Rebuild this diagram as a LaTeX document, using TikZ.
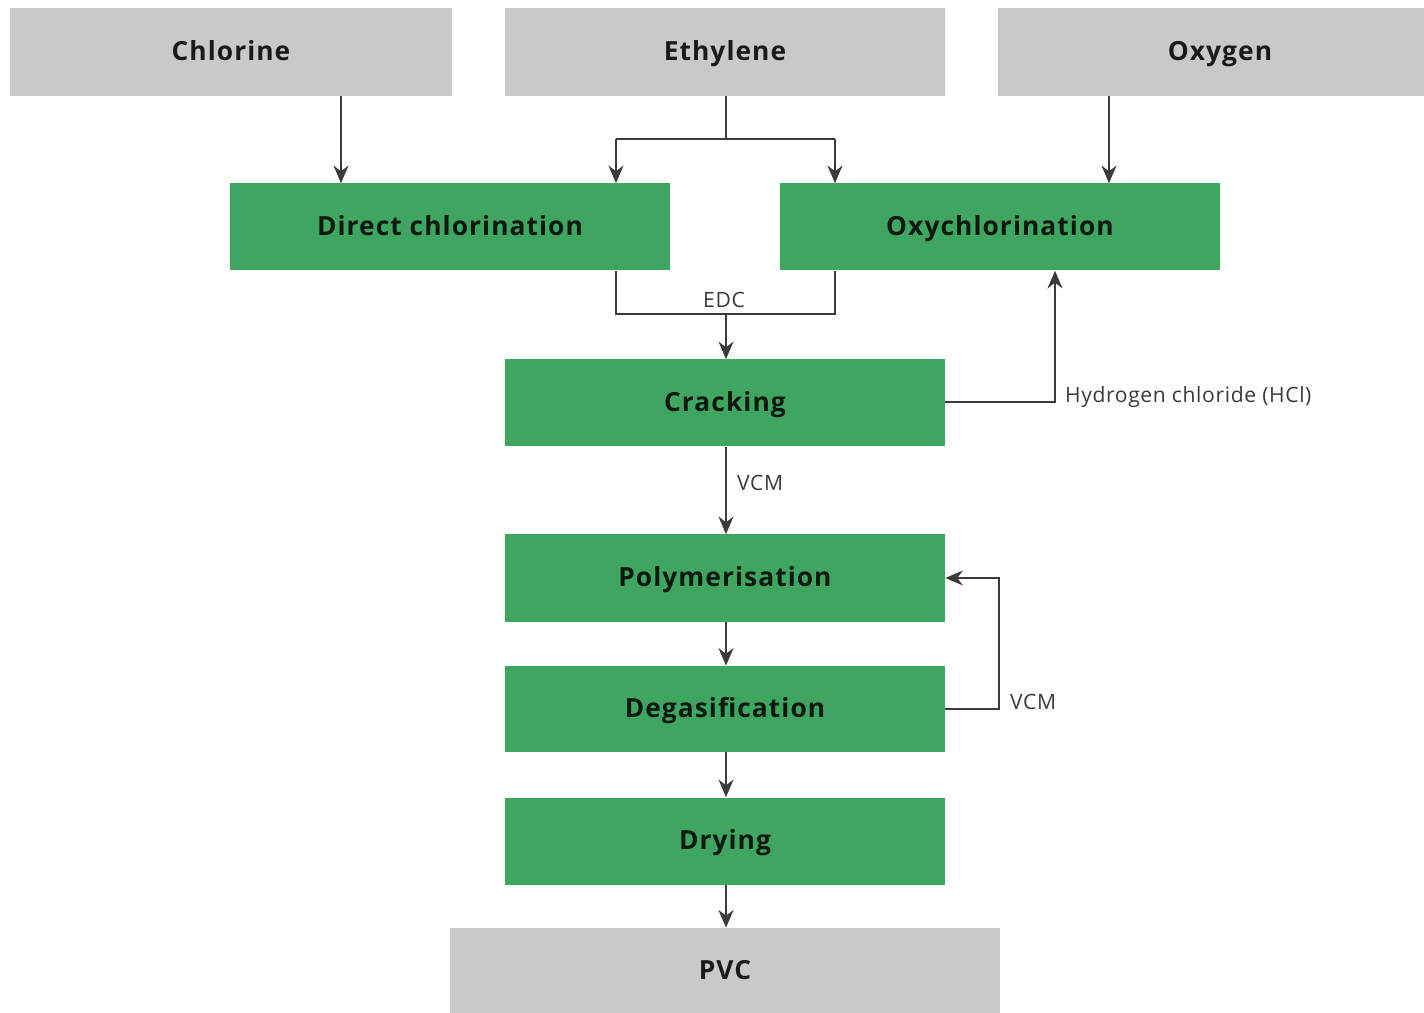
\documentclass[tikz,border=0pt]{standalone}
\usepackage{fontspec}
\setmainfont{Open Sans}
\usetikzlibrary{arrows.meta}
\definecolor{boxgrey}{HTML}{C8C9CB}
\definecolor{boxgreen}{HTML}{3EA660}
\definecolor{linegrey}{HTML}{3A3A3A}
\definecolor{textdark}{HTML}{1A1A1A}
\begin{document}
\begin{tikzpicture}[x=0.02cm,y=-0.02cm,
  base/.style={draw=none,minimum height=88*0.02cm,inner sep=0pt,font=\fontsize{15}{17}\selectfont\bfseries\addfontfeatures{LetterSpace=4},text=textdark,text height=0.95em,text depth=0pt},
  greybox/.style={base,fill=boxgrey},
  greenbox/.style={base,fill=boxgreen,text=black!85!boxgreen},
  conn/.style={draw=linegrey,line width=1.1pt},
  arr/.style={conn,-{Stealth[length=10pt,width=8.5pt]}},
  lab/.style={font=\fontsize{12}{14}\selectfont\addfontfeatures{LetterSpace=3},text=linegrey,inner sep=1pt}]
\useasboundingbox (0,0) rectangle (1424,1013);
% input boxes
\node[greybox,minimum width=442*0.02cm] (cl) at (231,52) {Chlorine};
\node[greybox,minimum width=440*0.02cm] (et) at (725,52) {Ethylene};
\node[greybox,minimum width=444*0.02cm] (ox) at (1220,52) {Oxygen};
% process boxes
\node[greenbox,minimum width=440*0.02cm,minimum height=87*0.02cm] (dc) at (450,227) {Direct chlorination};
\node[greenbox,minimum width=440*0.02cm,minimum height=87*0.02cm] (oc) at (1000,227) {Oxychlorination};
\node[greenbox,minimum width=440*0.02cm,minimum height=87*0.02cm] (cr) at (725,403) {Cracking};
\node[greenbox,minimum width=440*0.02cm,minimum height=87*0.02cm] (po) at (725,578) {Polymerisation};
\node[greenbox,minimum width=440*0.02cm,minimum height=86*0.02cm] (de) at (725,709) {Degasification};
\node[greenbox,minimum width=440*0.02cm,minimum height=87*0.02cm] (dr) at (725,841) {Drying};
\node[greybox,minimum width=550*0.02cm,minimum height=86*0.02cm] (pvc) at (725,971) {PVC};
% coordinates
\coordinate (clx) at (341,0);
\coordinate (oxx) at (1109,0);
\coordinate (mx) at (726,0);
\coordinate (ej) at (726,139);
\coordinate (el) at (616,139);
\coordinate (er) at (835,139);
\coordinate (edl) at (616,314);
\coordinate (edr) at (835,314);
\coordinate (edc) at (726,314);
\coordinate (hc) at (1055,402);
\coordinate (vc) at (999,709);
\coordinate (vt) at (999,578);
% connectors
\draw[arr] (cl.south -| clx) -- (dc.north -| clx);
\draw[conn] (et.south -| ej) -- (ej);
\draw[arr] (el) -- (dc.north -| el);
\draw[arr] (er) -- (oc.north -| er);
\draw[conn] (el) -- (er);
\draw[arr] (ox.south -| oxx) -- (oc.north -| oxx);
\draw[conn] (dc.south -| edl) -- (edl) -- (edr) -- (oc.south -| edr);
\draw[arr] (edc) -- (cr.north -| edc);
\node[lab,anchor=south] (edclab) at (724,310) {EDC};
\draw[arr] (cr.east |- hc) -- (hc) -- (oc.south -| hc);
\node[lab,anchor=west] (hcl) at (1063,397) {Hydrogen chloride (HCl)};
\draw[arr] (cr.south -| mx) -- (po.north -| mx);
\node[lab,anchor=west] (vcm1) at (735,483) {VCM};
\draw[arr] (po.south -| mx) -- (de.north -| mx);
\draw[arr] (de.east |- vc) -- (vc) -- (vt) -- (po.east |- vt);
\node[lab,anchor=west] (vcm2) at (1008,702) {VCM};
\draw[arr] (de.south -| mx) -- (dr.north -| mx);
\draw[arr] (dr.south -| mx) -- (pvc.north -| mx);
\end{tikzpicture}
\end{document}
